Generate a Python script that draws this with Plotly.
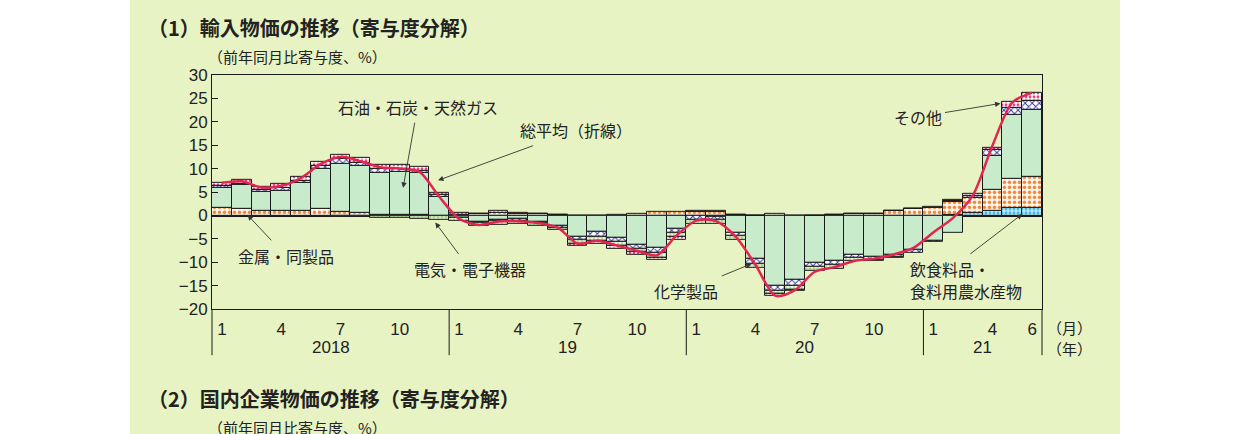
# %%
# package import
import plotly.graph_objects as go

# %%
# data: contributions to import price changes (y/y, %), Jan 2018 - Jun 2021
months = list(range(42))
month_tick_pos = [0, 3, 6, 9, 12, 15, 18, 21, 24, 27, 30, 33, 36, 39, 41]
month_tick_text = ["1", "4", "7", "10", "1", "4", "7", "10", "1", "4", "7", "10", "1", "4", "6"]
year_labels = ["2018", "19", "20", "21"]
year_centers = [5.5, 17.5, 29.5, 38.5]
year_breaks = [11.5, 23.5, 35.5]

food = [
    0, 0, 0, 0, 0, 0, 0, 0, 0, 0, 0, 0,
    0, 0, 0, 0, 0, 0, 0, 0, 0, 0, 0, 0,
    0, 0, 0, 0, 0, 0, 0, 0, 0, 0, 0, 0,
    0, 0.1, 0.6, 1.0, 1.55, 1.55,
]
metals = [
    1.6, 1.35, 1.0, 1.0, 1.05, 1.35, 0.8, 0.6, 0.2, 0.1, 0.05, 0.0,
    0.2, 0.35, 0.5, 0.4, 0.3, 0.15, 0.0, 0.0, 0.2, 0.35, 0.7, 0.7,
    0.7, 0.7, 0.2, 0.0, 0.3, 0.0, 0.0, 0.2, 0.35, 0.35, 1.0, 1.35,
    1.6, 2.9, 3.2, 4.45, 6.35, 6.75,
]
petroleum = [
    4.4, 5.1, 4.0, 4.3, 5.85, 8.5, 10.3, 9.9, 8.8, 9.2, 9.0, 3.9,
    -0.4, -1.3, -0.9, -0.8, -1.3, -2.3, -4.45, -3.4, -4.8, -6.2, -6.9, -2.9,
    0.0, -0.2, -3.6, -9.3, -14.9, -13.65, -10.1, -9.6, -8.35, -8.8, -8.35, -7.4,
    -5.5, -3.6, 0.0, 7.2, 13.5, 14.3,
]
chemicals = [
    0.35, 0.4, 0.5, 0.5, 0.55, 0.7, 1.05, 0.8, 1.05, 0.7, 0.55, 0.5,
    -0.2, -0.3, -0.2, -0.35, -0.35, -0.35, -0.7, -1.05, -0.9, -0.9, -1.05, -0.7,
    -0.9, -0.7, -0.7, -1.0, -1.2, -1.25, -0.9, -0.9, -0.7, -0.6, -0.5, -0.6,
    -0.2, 0.1, 0.3, 1.3, 1.5, 1.8,
]
electrical = [
    0, 0, 0, 0, 0, 0, -0.3, -0.3, -0.5, -0.6, -0.8, -1.0,
    -0.5, -0.7, -0.8, -0.7, -0.55, -0.5, -0.85, -1.05, -0.85, -0.7, -1.05, -1.05,
    -0.9, -0.9, -0.9, -0.9, -0.7, -1.0, -0.9, -0.9, -0.7, -0.35, -0.2, 0.0,
    0, 0, 0, 0, 0, 0,
]
others = [
    0.7, 0.7, 0.55, 0.9, 0.85, 1.0, 0.7, 0.9, 0.7, 0.9, 0.7, 0.5,
    0.3, 0.0, 0.4, 0.25, 0.0, 0.0, -0.4, -0.5, -0.55, -0.5, -0.35, -0.55,
    0.3, 0.3, 0.0, 0.0, -0.4, -0.2, 0.0, 0.0, 0.0, 0.0, 0.0, 0.0,
    0.3, 0.3, 0.6, 0.55, 1.3, 1.8,
]
total = [
    7.0, 7.3, 6.0, 6.3, 8.0, 11.0, 12.5, 11.6, 10.3, 10.0, 9.3, 4.0,
    -0.7, -2.0, -1.3, -1.2, -1.6, -2.6, -6.0, -5.4, -6.4, -7.5, -8.5, -4.3,
    -1.1, -1.2, -4.5, -10.5, -17.1, -15.9, -12.0, -11.0, -9.7, -9.2, -8.3, -6.9,
    -3.6, -0.5, 4.3, 15.0, 24.1, 26.2,
]

# %%
# page geometry (pixels of the 1241x434 picture)
W, H = 1241, 434
# the photographed figure comes out a bit shorter than the window, so map
# picture rows onto the figure's own height
fig_top, fig_h = 9, 416
plot_left, plot_right, plot_top, plot_bottom = 212, 1042, 75, 310
jp_font = "Noto Sans CJK JP"
num_font = "Liberation Sans, Noto Sans CJK JP"
panel_color = "#e8f3c3"


def px_x(x):
    return x / W


def px_y(y):
    return 1 - (y - fig_top) / fig_h


def idx_to_paper(i):
    # bar index (or break between bars) -> paper x
    return px_x(plot_left + (i + 0.5) / 42 * (plot_right - plot_left))


def page_text(x, y, text, size=16, family=jp_font, xanchor="left"):
    fig.add_annotation(
        x=px_x(x), y=px_y(y), xref="paper", yref="paper",
        text=text, showarrow=False, xanchor=xanchor, yanchor="middle",
        font=dict(size=size, family=family, color="#222222"),
    )


# %%
# bar series with their fills
series = [
    ("飲食料品・食料用農水産物", food, dict(shape=".", fgcolor="#3bb8e0", bgcolor="#c4ecf8", size=4, solidity=0.45), "#c4ecf8"),
    ("金属・同製品", metals, dict(shape=".", fgcolor="#f0883a", bgcolor="#fff6ec", size=5, solidity=0.4), "#fff6ec"),
    ("石油・石炭・天然ガス", petroleum, None, "#c8ebcb"),
    ("化学製品", chemicals, dict(shape="x", fgcolor="#3a3aa0", bgcolor="#ffffff", size=5, solidity=0.35), "#ffffff"),
    ("電気・電子機器", electrical, dict(shape="+", fgcolor="#6fb04a", bgcolor="#f0f8e4", size=4, solidity=0.3), "#f0f8e4"),
    ("その他", others, dict(shape=".", fgcolor="#e0407a", bgcolor="#ffffff", size=4, solidity=0.4), "#ffffff"),
]

fig = go.Figure()
for name, values, pattern, color in series:
    marker = dict(color=color, line=dict(color="#1a1a1a", width=1))
    if pattern:
        marker["pattern"] = dict(fillmode="replace", **pattern)
    fig.add_trace(go.Bar(x=months, y=values, name=name, marker=marker, width=1))

# total as smoothed red line
fig.add_trace(
    go.Scatter(
        x=months,
        y=total,
        mode="lines",
        line=dict(color="#e3264f", width=2.5, shape="spline", smoothing=0.8),
        name="総平均",
    )
)

# %%
# layout
fig.update_layout(
    width=W,
    height=H,
    margin=dict(l=0, r=0, t=0, b=0),
    paper_bgcolor="#ffffff",
    plot_bgcolor="#ffffff",
    barmode="relative",
    bargap=0,
    showlegend=False,
    font=dict(family=num_font, size=16, color="#222222"),
    xaxis=dict(
        domain=[px_x(plot_left), px_x(plot_right)],
        range=[-0.5, 41.5],
        tickvals=month_tick_pos,
        ticktext=month_tick_text,
        ticks="",
        showgrid=False,
        zeroline=False,
        showline=True,
        linecolor="#1a1a1a",
        linewidth=1,
        mirror=True,
        tickfont=dict(size=17),
        ticklabelstandoff=4,
    ),
    yaxis=dict(
        domain=[px_y(plot_bottom), px_y(plot_top)],
        range=[-20, 30],
        dtick=5,
        ticks="inside",
        ticklen=6,
        tickcolor="#1a1a1a",
        showgrid=False,
        zeroline=True,
        zerolinecolor="#1a1a1a",
        zerolinewidth=2,
        showline=True,
        linecolor="#1a1a1a",
        linewidth=1,
        mirror=True,
        tickfont=dict(size=17),
    ),
)

# green page panel behind everything
fig.add_shape(
    type="rect", xref="paper", yref="paper",
    x0=px_x(130), x1=px_x(1120), y0=-0.1, y1=1.1,
    fillcolor=panel_color, line_width=0, layer="below",
)

# year separators below the axis
for xb in [-0.5] + year_breaks + [41.5]:
    fig.add_shape(
        type="line", xref="paper", yref="paper",
        x0=idx_to_paper(xb), x1=idx_to_paper(xb),
        y0=px_y(356), y1=px_y(plot_bottom),
        line=dict(color="#1a1a1a", width=1),
    )

for label, xc in zip(year_labels, year_centers):
    fig.add_annotation(
        x=idx_to_paper(xc), y=px_y(348), xref="paper", yref="paper",
        text=label, showarrow=False, xanchor="center", yanchor="middle",
        font=dict(size=17, family=num_font, color="#222222"),
    )

page_text(1045, 328, "（月）", size=15)
page_text(1045, 349, "（年）", size=15)

# titles
page_text(146, 28, "<b>（1）輸入物価の推移（寄与度分解）</b>", size=20)
page_text(206, 57, "（前年同月比寄与度、%）", size=15)
page_text(146, 399, "<b>（2）国内企業物価の推移（寄与度分解）</b>", size=20)
page_text(206, 429, "（前年同月比寄与度、%）", size=15)

# %%
# series labels, each with an arrow to its mark
# (text centre and arrow tip both in data coords: bar index, value)
labels = [
    ("石油・石炭・天然ガス", 9.9, 23.1, 9.17, 5.9),
    ("総平均（折線）", 17.9, 18.2, 10.94, 7.5),
    ("その他", 35.2, 21.0, 39.4, 23.9),
    ("金属・同製品", 3.24, -8.6, 1.3, 0.1),
    ("電気・電子機器", 12.56, -11.5, 10.8, -1.5),
    ("化学製品", 23.5, -16.0, 26.8, -10.3),
    ("飲食料品・", 36.85, -11.5, 40.5, 0.3),
]
for text, tx, ty, tip_x, tip_y in labels:
    fig.add_annotation(
        x=tip_x, y=tip_y, xref="x", yref="y",
        ax=tx, ay=ty, axref="x", ayref="y",
        text=text, showarrow=True, arrowhead=2, arrowsize=1.2,
        arrowwidth=0.9, arrowcolor="#333333", borderpad=3,
        font=dict(size=16, family=jp_font, color="#222222"),
    )

# second line of the food label
fig.add_annotation(
    x=37.65, y=-16.2, xref="x", yref="y", text="食料用農水産物", showarrow=False,
    font=dict(size=16, family=jp_font, color="#222222"),
)

# page without body margin, panel colour continued on the page itself
page_bg = (
    f"linear-gradient(to right, #ffffff 130px, {panel_color} 130px, "
    f"{panel_color} 1120px, #ffffff 1120px)"
)
fig.write_html(
    "out.html",
    config={"displayModeBar": False},
    post_script=(
        "document.body.style.margin='0px';"
        "document.body.style.overflow='hidden';"
        f"document.documentElement.style.background='{page_bg}';"
        f"document.body.style.background='{page_bg}';"
    ),
)
